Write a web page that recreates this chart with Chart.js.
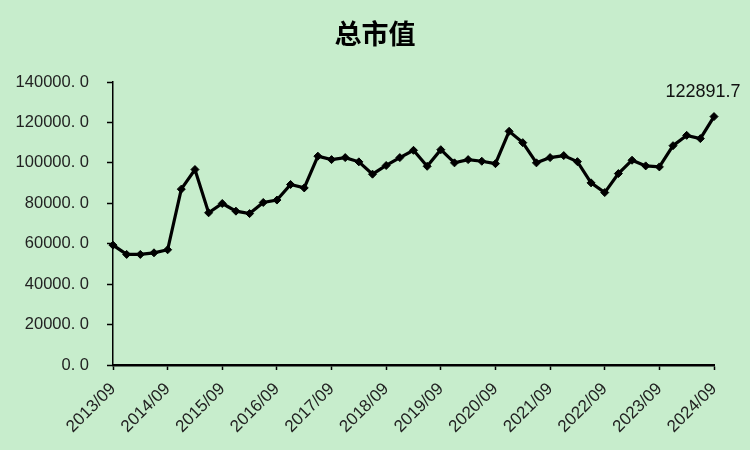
<!DOCTYPE html>
<html>
<head>
<meta charset="utf-8">
<script src="https://cdn.jsdelivr.net/npm/chart.js@4.4.1/dist/chart.umd.min.js"></script>
<style>
  html, body { margin: 0; padding: 0; background: #C7EDCC; }
  #wrap { width: 750px; height: 450px; position: relative; }
</style>
</head>
<body>
<div id="wrap"><canvas id="c" width="750" height="450"></canvas></div>
<script>
const chartTitle = "总市值";
const categories = [
  "2013/09","2013/12","2014/03","2014/06",
  "2014/09","2014/12","2015/03","2015/06",
  "2015/09","2015/12","2016/03","2016/06",
  "2016/09","2016/12","2017/03","2017/06",
  "2017/09","2017/12","2018/03","2018/06",
  "2018/09","2018/12","2019/03","2019/06",
  "2019/09","2019/12","2020/03","2020/06",
  "2020/09","2020/12","2021/03","2021/06",
  "2021/09","2021/12","2022/03","2022/06",
  "2022/09","2022/12","2023/03","2023/06",
  "2023/09","2023/12","2024/03","2024/06",
  "2024/09"
];
const totalMarketValue = [
  59300, 54700, 54700, 55500,
  57000, 87000, 96700, 75300,
  79900, 76100, 74900, 80400,
  81600, 89300, 87600, 103300,
  101600, 102600, 100500, 94400,
  98700, 102600, 106200, 98300,
  106500, 100000, 101600, 100800,
  99600, 115600, 110000, 100000,
  102600, 103600, 100600, 90100,
  85300, 94700, 101300, 98500,
  98000, 108500, 113600, 112000,
  122891.7
];
const yTicks = [0, 20000, 40000, 60000, 80000, 100000, 120000, 140000];
const shownLabels = ["2013/09","2014/09","2015/09","2016/09","2017/09","2018/09","2019/09","2020/09","2021/09","2022/09","2023/09","2024/09"];
const lastLabelText = "122891.7";

const bgPlugin = {
  id: 'bg',
  beforeDraw(chart) {
    const ctx = chart.ctx;
    ctx.save();
    ctx.fillStyle = '#C7EDCC';
    ctx.fillRect(0, 0, chart.width, chart.height);
    ctx.restore();
  }
};
const textPlugin = {
  id: 'texts',
  afterDraw(chart) {
    const ctx = chart.ctx;
    ctx.save();
    ctx.fillStyle = '#000';
    ctx.font = 'bold 27px "Noto Sans CJK SC"';
    ctx.textAlign = 'center';
    ctx.textBaseline = 'middle';
    ctx.fillText(chartTitle, 375, 34);
    const meta = chart.getDatasetMeta(0);
    const last = meta.data[meta.data.length - 1];
    ctx.font = '18px "Liberation Sans"';
    ctx.fillStyle = '#111';
    ctx.textAlign = 'center';
    ctx.textBaseline = 'middle';
    ctx.fillText(lastLabelText, last.x - 11, last.y - 25);
    ctx.restore();
  }
};

new Chart(document.getElementById('c'), {
  type: 'line',
  data: {
    labels: categories,
    datasets: [{
      data: totalMarketValue,
      borderColor: '#000',
      backgroundColor: '#000',
      borderWidth: 3.2,
      pointStyle: 'rectRot',
      pointRadius: 4,
      pointBorderWidth: 1,
      pointBackgroundColor: '#000',
      pointBorderColor: '#000',
      tension: 0,
      fill: false
    }]
  },
  options: {
    responsive: false,
    animation: false,
    devicePixelRatio: 1,
    layout: { padding: { left: 0, right: 36, top: 82, bottom: 0 } },
    plugins: {
      legend: { display: false },
      title: { display: false },
      tooltip: { enabled: false }
    },
    scales: {
      x: {
        offset: false,
        afterFit(scale) { scale.height = 85; },
        grid: {
          drawOnChartArea: false,
          drawTicks: true,
          tickLength: 5,
          tickWidth: 1.5,
          tickColor: (ctx) => (ctx.index % 4 === 0 ? '#000' : 'rgba(0,0,0,0)')
        },
        border: { display: true, color: '#000', width: 2.5 },
        ticks: {
          autoSkip: false,
          minRotation: 45,
          maxRotation: 45,
          padding: 9,
          color: '#222',
          font: { family: '"Liberation Sans"', size: 17 },
          callback: function(value, index) {
            const lab = categories[index];
            return shownLabels.includes(lab) ? lab : '';
          }
        }
      },
      y: {
        min: 0,
        max: 140000,
        afterFit(scale) { scale.width = 113; },
        afterBuildTicks(scale) { scale.ticks = yTicks.map(v => ({ value: v })); },
        grid: {
          drawOnChartArea: false,
          drawTicks: true,
          tickLength: 6,
          tickWidth: 1.5,
          tickColor: '#000'
        },
        border: { display: true, color: '#000', width: 1.5 },
        ticks: {
          padding: 18,
          color: '#222',
          font: { family: '"Liberation Sans"', size: 16.5 },
          callback: (v) => Number(v).toFixed(1).replace('.', '. ')
        }
      }
    }
  },
  plugins: [bgPlugin, textPlugin]
});
</script>
</body>
</html>
